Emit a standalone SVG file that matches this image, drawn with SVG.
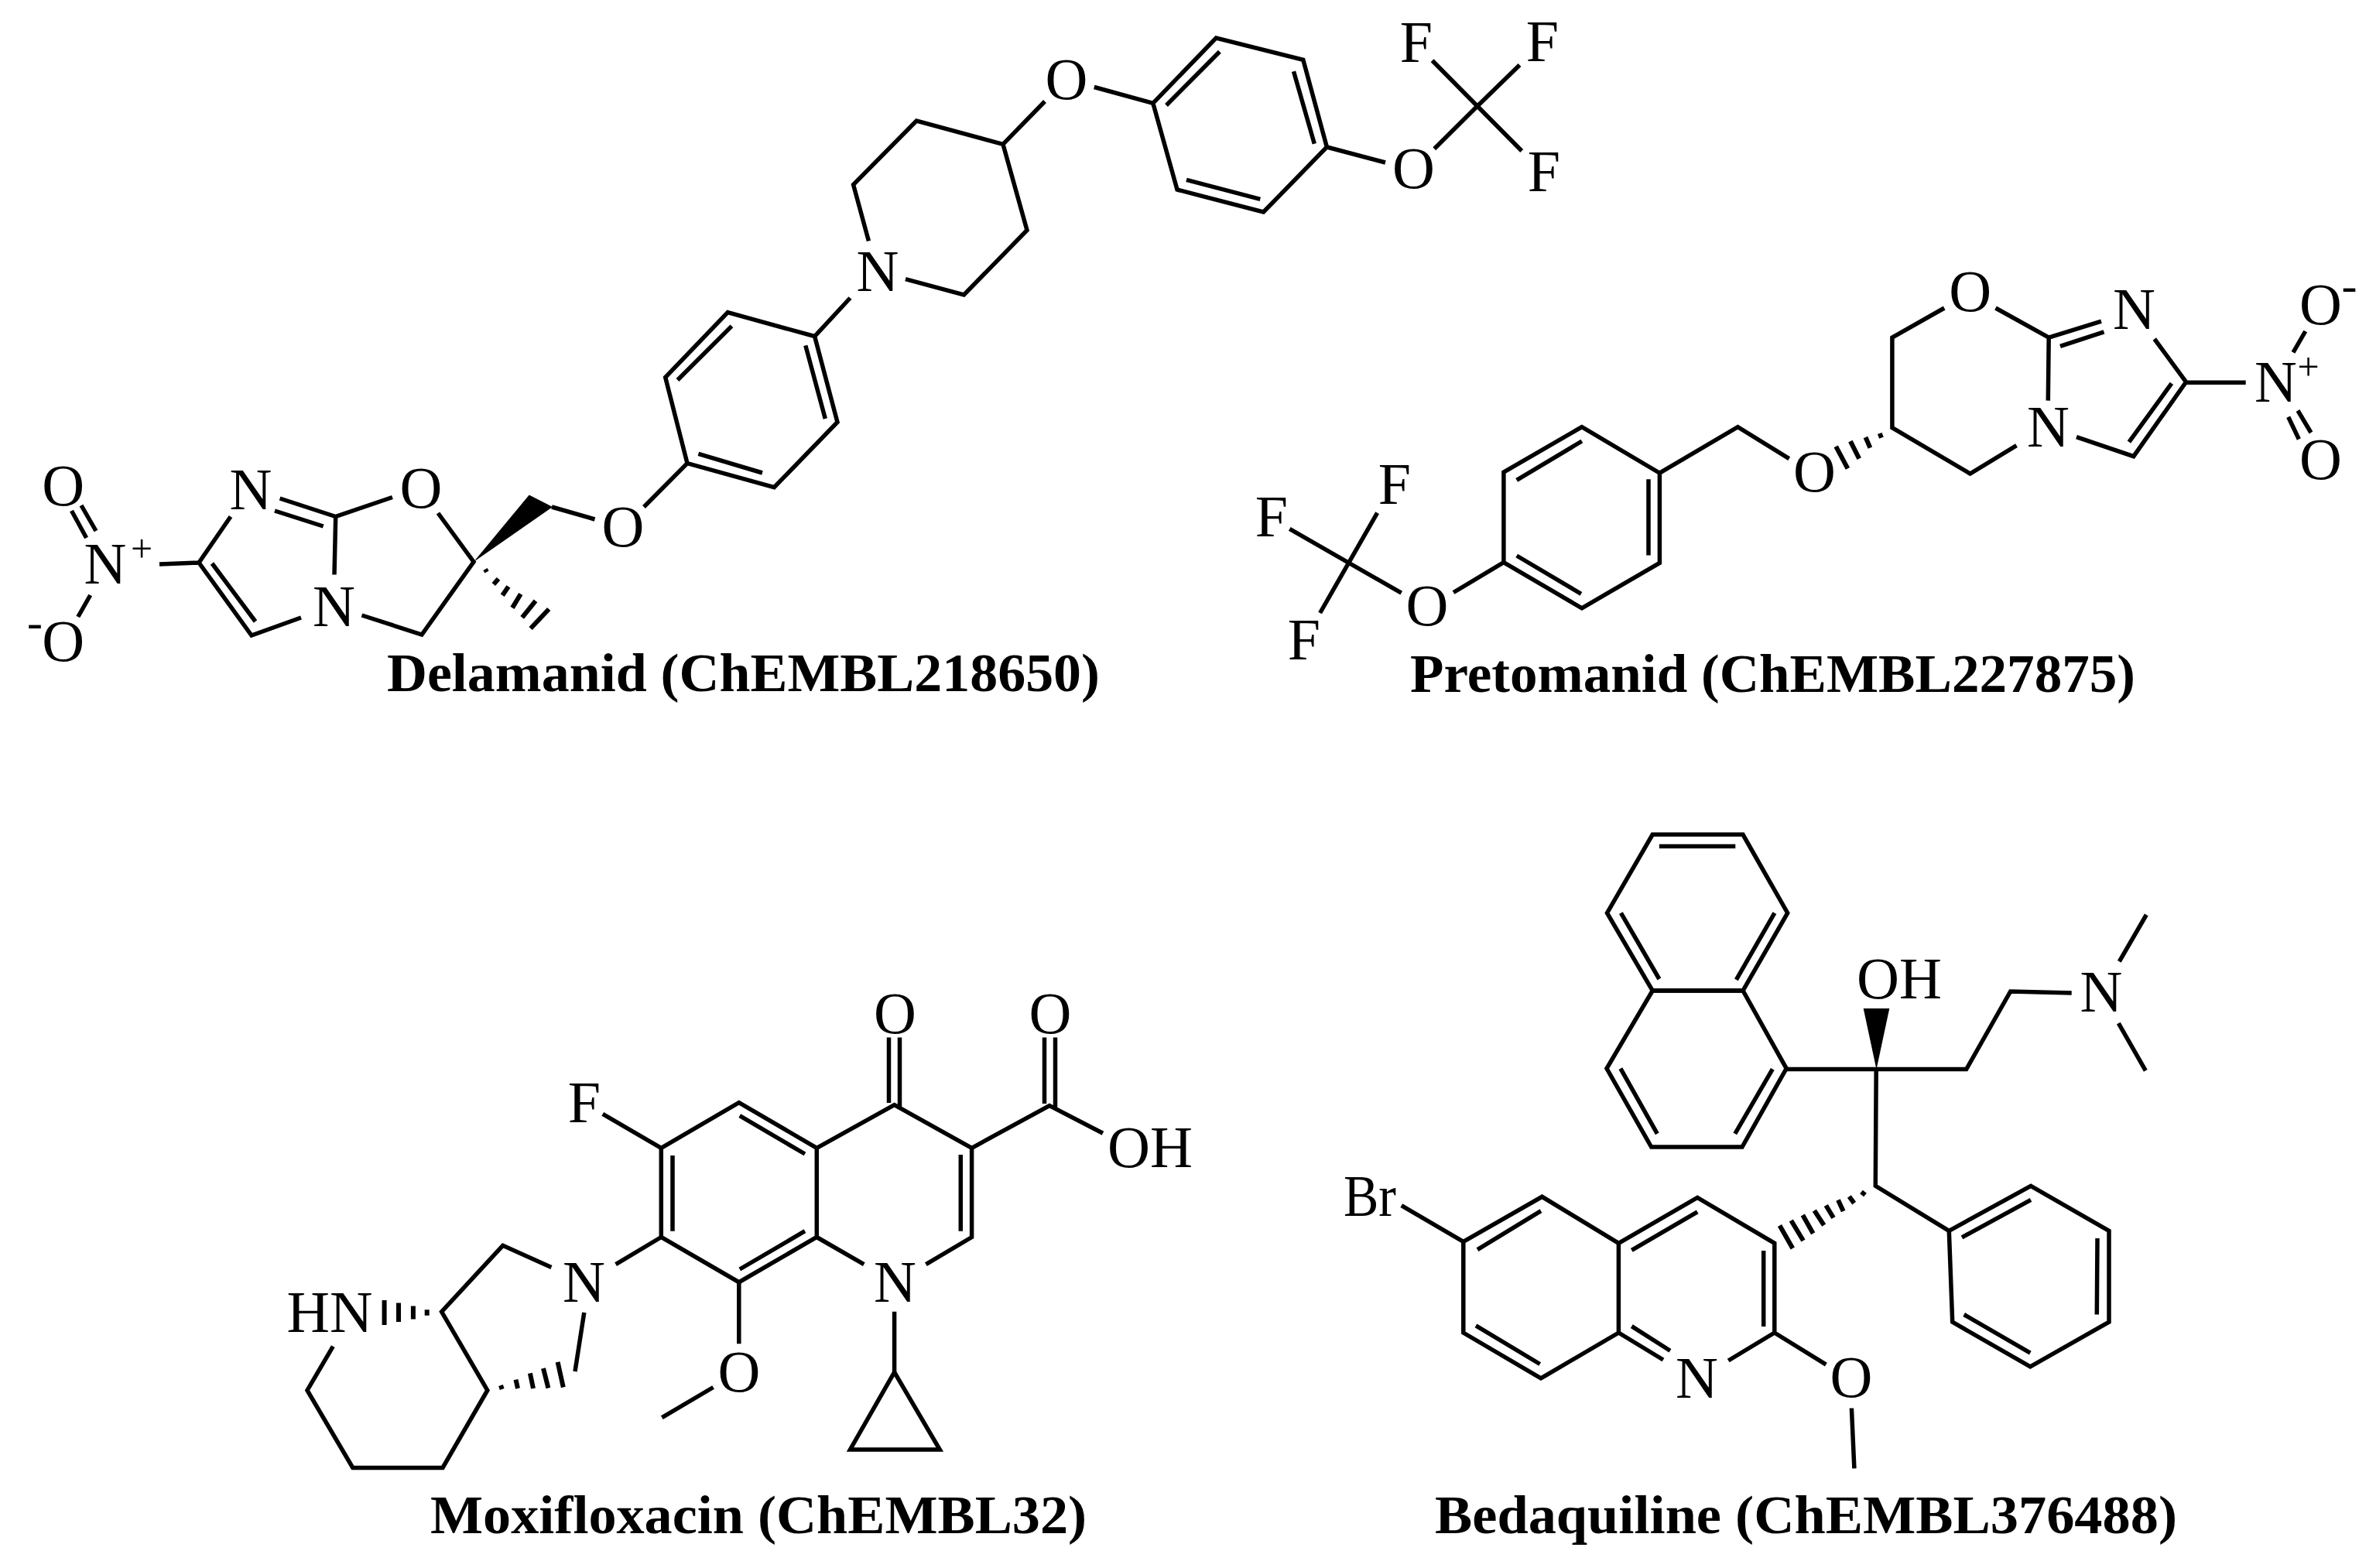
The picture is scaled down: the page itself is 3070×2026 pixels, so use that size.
<svg xmlns="http://www.w3.org/2000/svg" width="3070" height="2026" viewBox="0 0 3070 2026">
<style>
.b{fill:none;stroke:#000;stroke-width:5.5;stroke-linejoin:miter;stroke-linecap:butt}
.h{fill:none;stroke:#000;stroke-width:6}
.w{fill:#000}
text{font-family:"Liberation Serif","Times New Roman",serif;fill:#000}
.a{font-size:76px;text-anchor:middle}
.s{font-size:50px;text-anchor:middle}
.m{font-size:60px;text-anchor:middle}
.c{font-size:70px;font-weight:bold}
</style>
<rect width="3070" height="2026" fill="#fff"/>

<g id="delamanid">
<path class="b" d="M92.5 660L111.6 695M105 653L124 686M116.7 769L100.8 797M206 729L257 727M298 667.5L257 727L325 821L389 798M274 728L330 803M432 742.5L433.7 667.5L507 642.5M433.7 667.5L361.6 644M417.7 680L355 660M566 663L612 726L545 820L467.5 795M713 655L768.5 671M832 655L888 598.6"/>
<polygon class="w" points="612,726 683.7,639.6 714,655"/>
<path class="h" d="M627 735.5L629 739M637.8 755L644 747.9M649.2 769.3L656.9 757.9M662 785.4L672.8 767.5M674.7 797.9L692 776.4M685.6 812L709.2 787"/>
<polygon class="b" points="888,598.6 859.7,487.5 940.3,403.6 1052.6,434.6 1082,545.5 1000.3,629.6"/>
<path class="b" d="M875.5 491L945.4 421.4M1040.8 446.4L1066.3 541M902.4 586.4L985 611M1098.5 385L1052.6 434.6M1122.4 311.4L1102.6 238.6L1184.2 156L1296 186.4L1327 297.5L1245.4 381L1170 360.7M1296 186.4L1350 131M1413.8 112.5L1489.8 133.3"/>
<polygon class="b" points="1489.8,133.3 1571.3,49 1683.8,77.3 1714.4,190 1632.5,274 1521,245"/>
<path class="b" d="M1507 136L1575.9 66.7M1671.5 92.3L1698.3 185.7M1533 232.3L1628.3 257.3M1714.4 190L1790 210M1853.3 192.3L1907.7 138.3M1850.6 78.3L1966.2 195M1907.7 138.3L1963.5 84"/>
<text class="a" x="81.6" y="653">O</text>
<text class="a" x="136" y="754">N</text>
<text class="s" x="183" y="726">+</text>
<text class="a" x="81.6" y="853.5">O</text>
<text class="m" x="45" y="824">-</text>
<text class="a" x="324" y="657.5">N</text>
<text class="a" x="431.5" y="809">N</text>
<text class="a" x="544" y="655.5">O</text>
<text class="a" x="805" y="705.5">O</text>
<text class="a" x="1134" y="375.5">N</text>
<text class="a" x="1378" y="128">O</text>
<text class="a" x="1826.5" y="243">O</text>
<text class="a" x="1830" y="80">F</text>
<text class="a" x="1993" y="79">F</text>
<text class="a" x="1995" y="247">F</text>
<text class="c" x="500" y="893" textLength="921" lengthAdjust="spacingAndGlyphs">Delamanid (ChEMBL218650)</text>
</g>

<g id="pretomanid">
<path class="b" d="M1779.6 662.6L1705.6 792M1666.3 683.3L1810.7 766.2M1878 765.5L1942.9 726.6"/>
<polygon class="b" points="1942.9,726.6 1942.9,610 2043.9,551.6 2144.4,611.2 2144.4,727.3 2043.9,785.8"/>
<path class="b" d="M1959.7 620.4L2043.9 570M2130 619.3L2130 717.4M1959.7 718L2042.9 767.3M2144.4 611.2L2245.4 551.6L2311.7 592.7"/>
<path class="h" d="M2428.7 560L2431 565.7M2410.5 565L2416.4 578.6M2390.9 570.1L2402.2 592.7M2372.2 576.8L2387.4 605.3"/>
<path class="b" d="M2512.2 398L2444.9 436.2L2444.9 552.7L2545.6 612L2605.5 575.7M2578.5 398L2647.2 436.2L2646.3 517.6M2647.2 436.2L2715 415.1M2662 447.3L2718.5 428.8M2783.8 438L2824.6 493.5L2756.8 589.7L2683 564.6M2805.9 495.4L2750.9 571.2M2824.6 494.3L2901.7 494.3M2963 455.4L2978.8 428M2956.7 538.7L2970.4 567.5M2969 530.5L2986 559"/>
<text class="a" x="1802" y="651">F</text>
<text class="a" x="1643" y="693">F</text>
<text class="a" x="1685" y="851.5">F</text>
<text class="a" x="1844" y="808">O</text>
<text class="a" x="2344.5" y="634.5">O</text>
<text class="a" x="2545.6" y="402">O</text>
<text class="a" x="2757.5" y="425">N</text>
<text class="a" x="2646.5" y="576.5">N</text>
<text class="a" x="2940.5" y="518.5">N</text>
<text class="s" x="2982.7" y="491">+</text>
<text class="a" x="2998.4" y="418.5">O</text>
<text class="m" x="3035.5" y="388.5">-</text>
<text class="a" x="2998.4" y="618.5">O</text>
<text class="c" x="1822" y="894" textLength="937" lengthAdjust="spacingAndGlyphs">Pretomanid (ChEMBL227875)</text>
</g>

<g id="moxifloxacin">
<polygon class="b" points="854.3,1483.3 954.8,1424.6 1055.3,1483.3 1055.3,1598.5 954.8,1656.7 854.3,1598.5"/>
<path class="b" d="M869 1493L869 1590.7M955.8 1441.7L1040 1491M955.8 1640L1040 1590.7M778.8 1439.3L854.3 1483.3M795.6 1633.7L854.3 1598.5M712.4 1637.6L649.7 1609.3L570.6 1694.8L629.8 1796.4L572 1896.5L455.8 1896.5L397 1796.4L430.3 1739.7M754.8 1695.8L743 1772"/>
<path class="h" d="M647 1790L648.7 1795M666.5 1782.7L669 1794M684.9 1774.4L689 1794M702 1768L708.4 1793.4M720.6 1759.8L727.8 1792.5M496.6 1680L496.6 1711.9M515 1683.5L515 1708M533.9 1687.5L533.9 1704.5M551.7 1692.3L551.7 1699.7"/>
<path class="b" d="M954.8 1656.7L954.8 1736.3M921.6 1792.5L855.3 1831.6M1148.5 1340.6L1148.5 1425M1162.5 1340.6L1162.5 1431M1349.5 1340.6L1349.5 1426M1363.5 1340.6L1363.5 1432M1055.3 1483.3L1155.6 1427.6L1255.6 1483.3L1255.6 1598.5L1196.4 1633.7M1241.3 1492L1241.3 1590.7M1055.3 1598.5L1116.3 1633.7M1255.6 1483.3L1356 1428.5L1425 1464.2M1155.6 1694.8L1155.6 1773"/>
<polygon class="b" points="1155.6,1773 1098.5,1873 1214.3,1873"/>
<text class="a" x="755" y="1450">F</text>
<text class="a" x="754.5" y="1681.5">N</text>
<text class="a" x="426" y="1721" textLength="111" lengthAdjust="spacingAndGlyphs">HN</text>
<text class="a" x="955" y="1798">O</text>
<text class="a" x="1156.5" y="1335">O</text>
<text class="a" x="1357" y="1335">O</text>
<text class="a" x="1156.5" y="1681.5">N</text>
<text class="a" x="1486" y="1508" textLength="110" lengthAdjust="spacingAndGlyphs">OH</text>
<text class="c" x="556" y="1980.5" textLength="848" lengthAdjust="spacingAndGlyphs">Moxifloxacin (ChEMBL32)</text>
</g>

<g id="bedaquiline">
<polygon class="b" points="2135.2,1078.3 2252,1078.3 2309.7,1179.7 2252,1280 2135.2,1280 2076.5,1179.7"/>
<polygon class="b" points="2135.2,1280 2252,1280 2308.2,1380.6 2251,1482 2133.7,1482 2076,1380.6"/>
<path class="b" d="M2143.9 1093.6L2242.3 1093.6M2094.4 1179.7L2143.9 1265M2292.9 1179.7L2243.4 1265.8M2290.3 1381.4L2241.8 1464.8M2093.9 1380.6L2141.3 1464.8M2308.2 1381.5L2540.7 1381.5L2597.7 1281L2676.7 1283M2424.2 1381.5L2423.3 1532.3L2518.3 1590.3M2738.3 1242.3L2773.3 1182M2737.3 1322.2L2772.3 1383.3"/>
<polygon class="w" points="2407.7,1303 2441.3,1303 2424.5,1381.7"/>
<polygon class="b" points="2518.3,1590.3 2624,1532.3 2725,1590.3 2725,1708.2 2623.3,1765.8 2522.7,1708.2"/>
<path class="b" d="M2535 1598.8L2624 1550.4M2710 1600L2709.3 1698.5M2537.7 1698.5L2623.3 1748.2"/>
<path class="h" d="M2405 1540L2410 1544M2389.3 1546L2395.7 1554.6M2375 1550.4L2381.7 1565M2359.3 1557.5L2369 1573.5M2344.3 1564.2L2356.7 1583.2M2329.3 1570L2342.7 1593.7M2314.3 1577L2330 1603M2299.5 1583.4L2316.3 1612.9"/>
<polygon class="b" points="1890.8,1604.4 1992.5,1546.3 2091.4,1606.3 2091.4,1722 1991,1780.9 1890.8,1722"/>
<path class="b" d="M1810.8 1557.7L1890.8 1604.4M1909 1614.7L1991 1564.7M1907 1712.9L1989.7 1762.5M2091.4 1606.3L2193.2 1547.4L2292.8 1606.3L2292.8 1722L2233.2 1758M2091.4 1722L2149 1757M2108.3 1615.4L2193.2 1565.8M2278.7 1616L2278.7 1714M2108.3 1713.6L2158 1745.2M2292.8 1722L2359.4 1763.2M2392.4 1819.5L2395.9 1897.4"/>
<text class="a" x="1770" y="1571" textLength="68" lengthAdjust="spacingAndGlyphs">Br</text>
<text class="a" x="2454" y="1290" textLength="110" lengthAdjust="spacingAndGlyphs">OH</text>
<text class="a" x="2715" y="1306.5">N</text>
<text class="a" x="2192.5" y="1805.5">N</text>
<text class="a" x="2392" y="1805">O</text>
<text class="c" x="1854" y="1980.5" textLength="959" lengthAdjust="spacingAndGlyphs">Bedaquiline (ChEMBL376488)</text>
</g>
</svg>
